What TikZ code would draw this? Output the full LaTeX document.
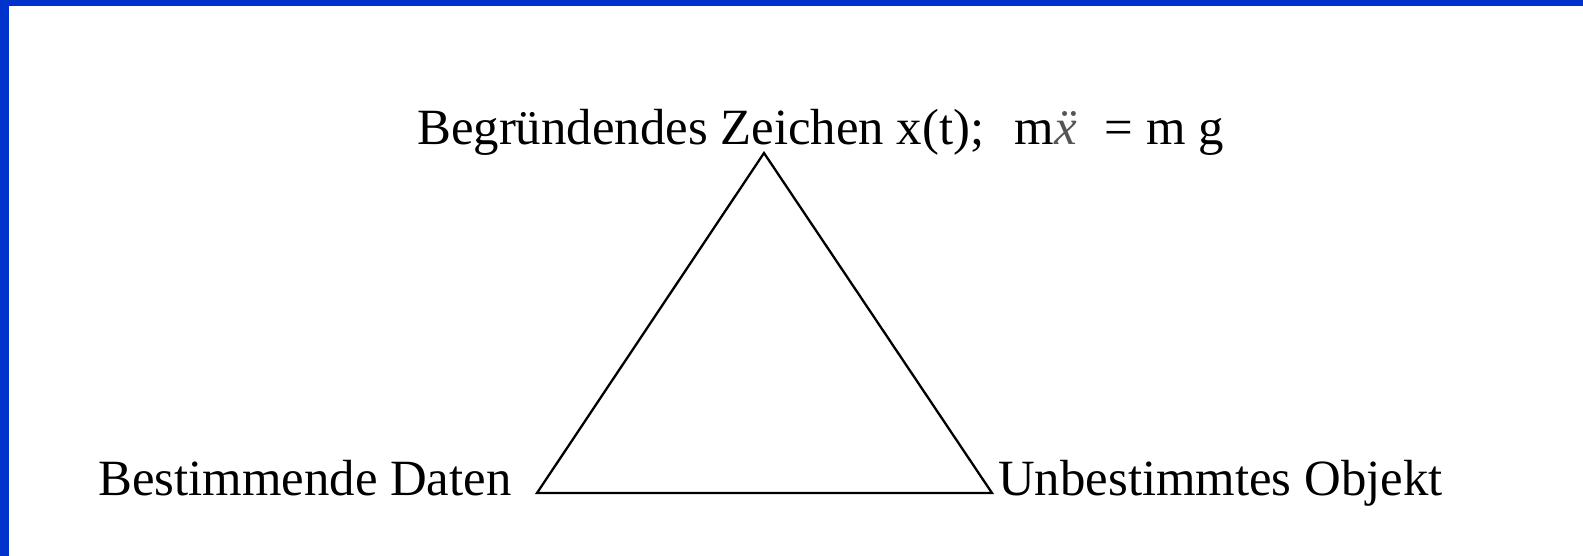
\documentclass[tikz,border=0pt]{standalone}
\usepackage{fontspec}
\setmainfont{Liberation Serif}
\definecolor{frameblue}{HTML}{0033CC}
\definecolor{dotgray}{HTML}{555555}
\tikzset{
  lbl/.style={inner sep=0pt, font=\fontsize{50.8}{60}\selectfont, text=black},
  tri/.style={draw=black, line width=2.3pt, line join=miter}
}
\begin{document}
\begin{tikzpicture}[x=1pt,y=-1pt]
\useasboundingbox (0,0) rectangle (1583,556);
\fill[white] (0,0) rectangle (1583,556);
\fill[frameblue] (0,0) rectangle (1583,6);
\fill[frameblue] (0,0) rectangle (8.5,556);
\coordinate (apex) at (764,153);
\coordinate (bl) at (537,493);
\coordinate (br) at (992,493);
\draw[tri] (bl) -- (apex) -- (br) -- cycle;
\node[lbl, anchor=base west] (top) at (417,145) {Begründendes Zeichen x(t);\hspace{0.6em}m{\itshape\color{dotgray}\"{x}}\hspace{0.55em}= m g};
\node[lbl, anchor=base west] (left) at (98,495) {Bestimmende Daten};
\node[lbl, anchor=base west] (right) at (998,495) {Unbestimmtes Objekt};
\end{tikzpicture}
\end{document}
